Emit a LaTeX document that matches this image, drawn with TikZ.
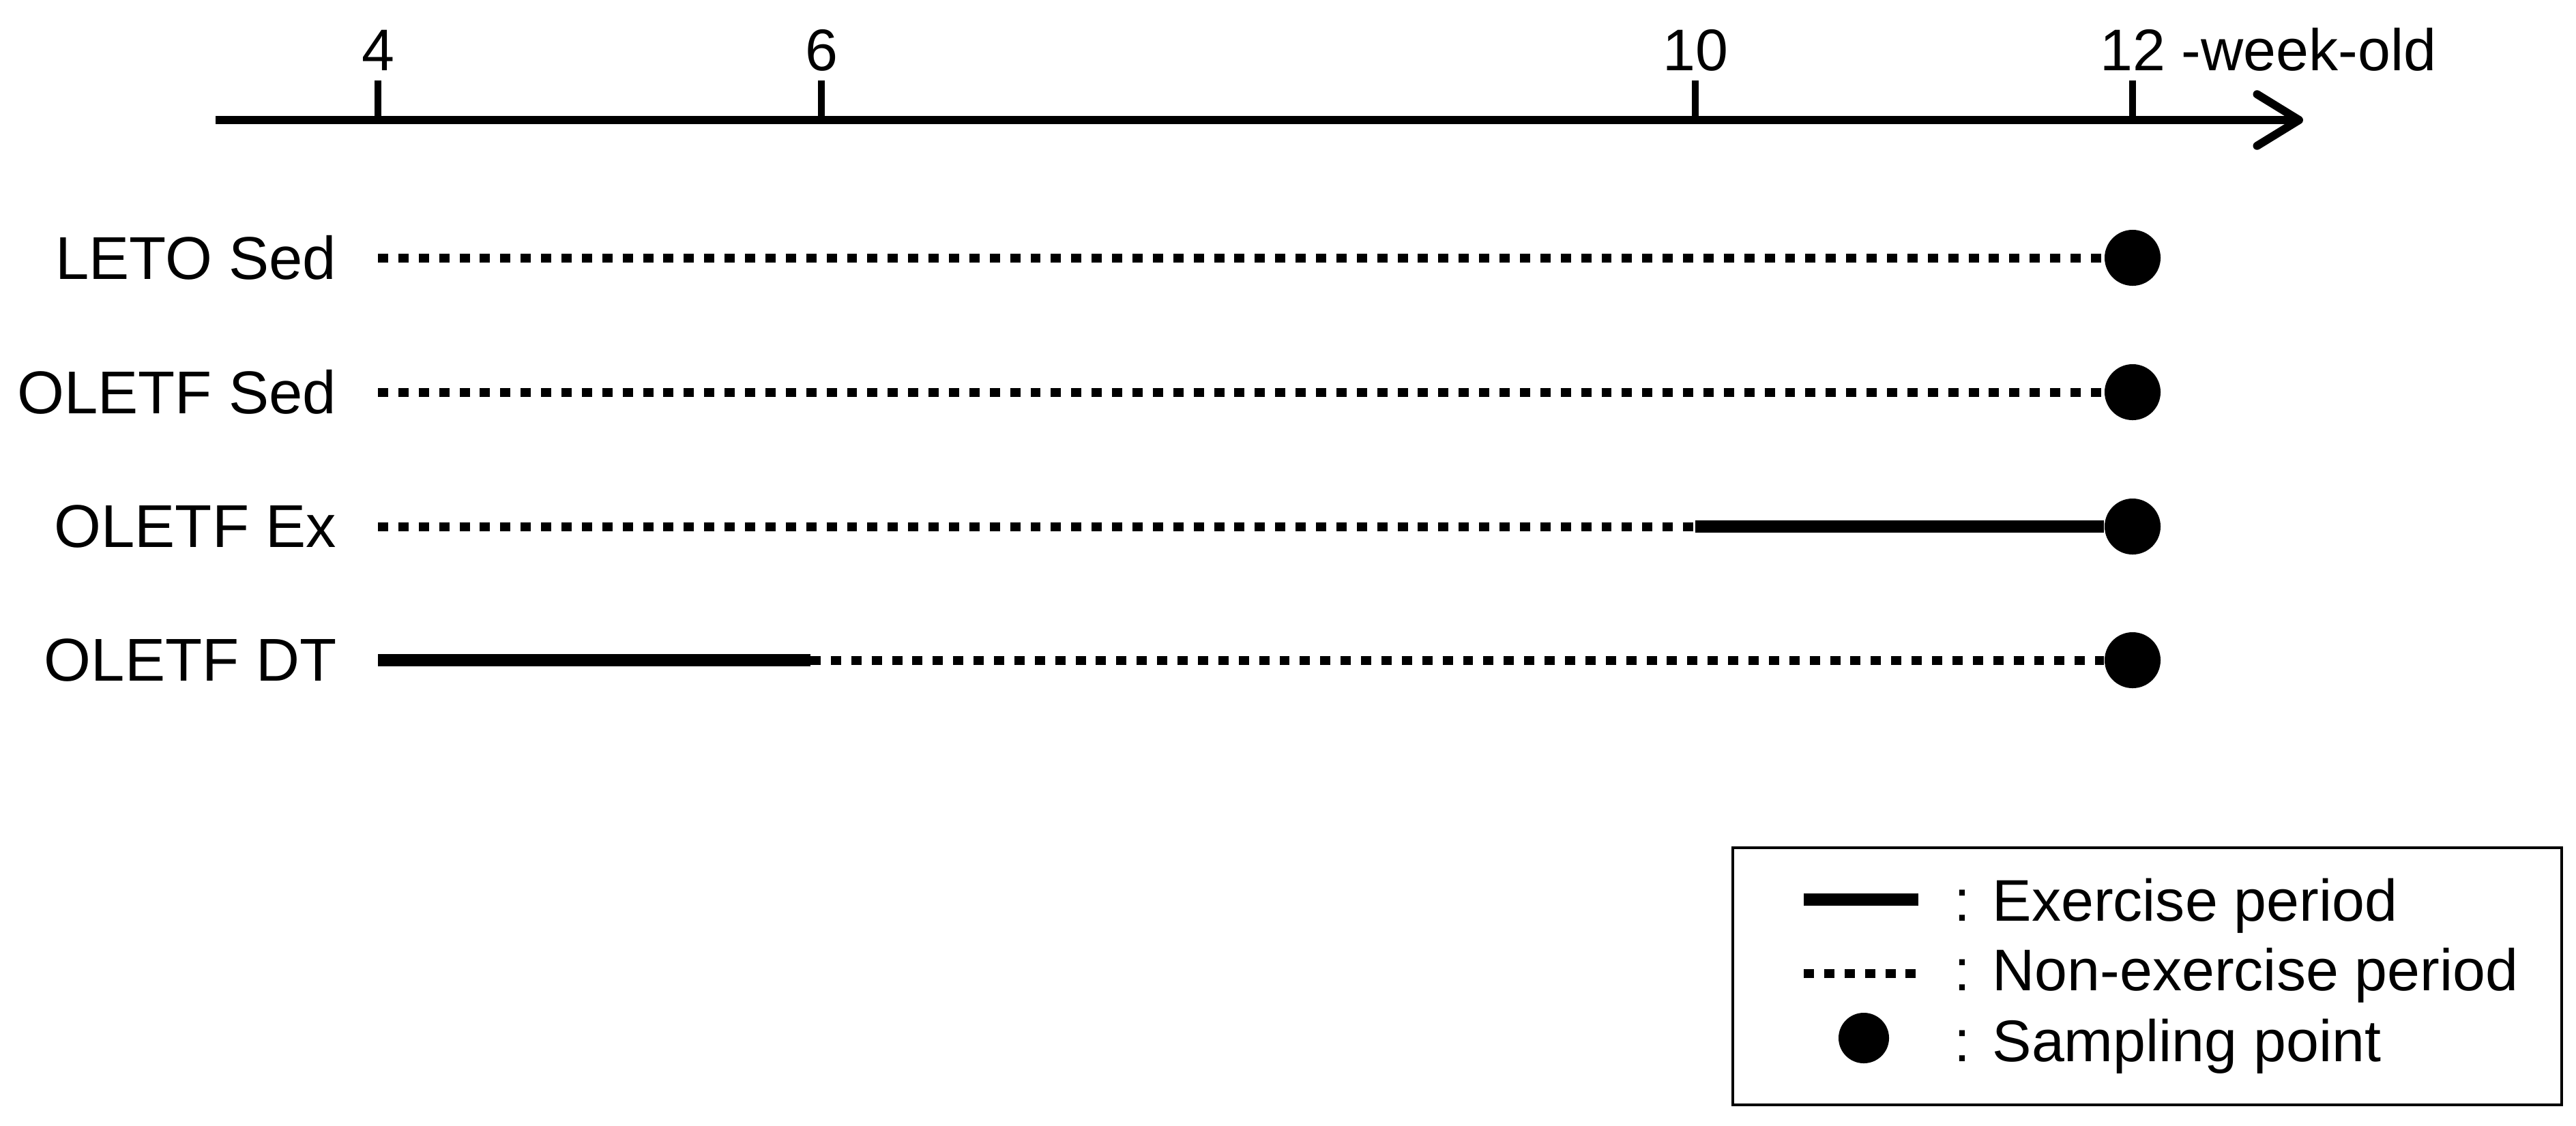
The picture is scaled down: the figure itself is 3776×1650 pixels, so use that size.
\documentclass[tikz,border=0pt]{standalone}
\usepackage{fontspec}
\setmainfont{Liberation Sans}
\usetikzlibrary{positioning, arrows.meta}
\tikzset{
    every node/.style={font=\fontsize{24.5}{29}\selectfont, inner sep=0pt},
    group/.style={anchor=east, font=\fontsize{25.2}{30}\selectfont},
    exer/.style={line width=5.3pt},
    nonex/.style={line width=3.7pt, dash pattern=on 4.25pt off 4.25pt},
    sample/.style={circle, fill=black, minimum size=0.82cm, inner sep=0pt},
    tickmark/.style={line width=2.9pt}
}

\begin{document}
\begin{tikzpicture}[x=0.01cm, y=-0.01cm]
    \useasboundingbox (0,0) rectangle (3776,1650);

    % time axis
    \coordinate (a0) at (316,176);
    \coordinate (a1) at (3376,176);
    \draw[line width=3.4pt, -{Straight Barb[length=17.5pt,width=21.5pt,round]}] (a0) -- (a1);
    \foreach \w/\x in {4/554, 6/1204, 10/2485, 12/3126} {
        \coordinate (w\w) at (\x,176);
        \draw[tickmark] (w\w) -- ++(0,-58) node[above=0.09cm] (l\w) {\w};
    }
    \node[anchor=base west] (unit) at ([xshift=0.18cm]l12.base east) {-week-old};

    % groups
    \foreach \n/\y/\txt in {leto/378/LETO Sed, olsed/575/OLETF Sed, olex/772/OLETF Ex, oldt/968/OLETF DT} {
        \node[group] (\n) at (494,\y) {\txt};
        \node[sample] (\n-end) at (3126,\y) {};
    }
    \draw[nonex] (w4 |- leto) -- (leto-end);
    \draw[nonex] (w4 |- olsed) -- (olsed-end);
    \draw[nonex] (w4 |- olex) -- (w10 |- olex);
    \draw[exer] (w10 |- olex) -- (olex-end);
    \draw[exer] (w4 |- oldt) -- ([xshift=-0.16cm]w6 |- oldt) coordinate (dt-m);
    \draw[nonex] (dt-m) -- (oldt-end);

    % legend
    \node[draw, line width=1.2pt, minimum width=12.14cm, minimum height=3.77cm, anchor=north west] (legend) at (2538,1241) {};
    \coordinate (k1) at (2644,1319);
    \draw[exer] (k1) -- ++(168,0);
    \node[anchor=base west] (t1) at (2864,1350) {: Exercise period};
    \coordinate (k2) at (2644,1427);
    \draw[nonex] (k2) -- ++(170,0);
    \node[anchor=base west] (t2) at (2864,1452) {: Non-exercise period};
    \node[sample, minimum size=0.74cm] (k3) at (2732,1522) {};
    \node[anchor=base west] (t3) at (2864,1556) {: Sampling point};
\end{tikzpicture}
\end{document}
